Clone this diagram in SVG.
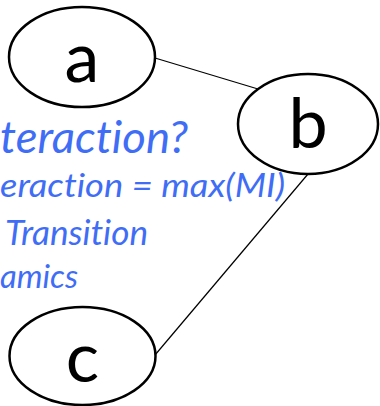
<svg xmlns="http://www.w3.org/2000/svg" width="380" height="406" viewBox="0 0 380 406">
<style>
.node ellipse{fill:#fff;stroke:#000;stroke-width:2.5}
.node text{font-family:Lato,"Liberation Sans",sans-serif;font-size:70px;fill:#000;text-anchor:middle}
.conn line{stroke:#000;stroke-width:1.2}
.note{font-family:Lato,"Liberation Sans",sans-serif;font-style:italic;fill:#3F6DF5;font-variant-ligatures:none}
</style>
<rect width="380" height="406" fill="#fff"/>
<g class="conn">
<line x1="155" y1="58" x2="258" y2="89"/>
<line x1="308" y1="174" x2="155" y2="355"/>
</g>
<text class="note" x="0" y="153" font-size="44" textLength="188" lengthAdjust="spacingAndGlyphs">teraction?</text>
<text class="note" x="0" y="197" font-size="33" textLength="285" lengthAdjust="spacingAndGlyphs">eraction = max(MI)</text>
<text class="note" x="5" y="245" font-size="34" textLength="143" lengthAdjust="spacingAndGlyphs">Transition</text>
<text class="note" x="0" y="288" font-size="33" textLength="78" lengthAdjust="spacingAndGlyphs">amics</text>
<g id="node-a" class="node">
<ellipse cx="82" cy="57" rx="73" ry="50"/>
<text x="82" y="82">a</text>
</g>
<g id="node-b" class="node">
<ellipse cx="308" cy="124" rx="70" ry="50"/>
<text x="308" y="148">b</text>
</g>
<g id="node-c" class="node">
<ellipse cx="82.5" cy="356" rx="73" ry="49"/>
<text x="82.5" y="382">c</text>
</g>
</svg>
